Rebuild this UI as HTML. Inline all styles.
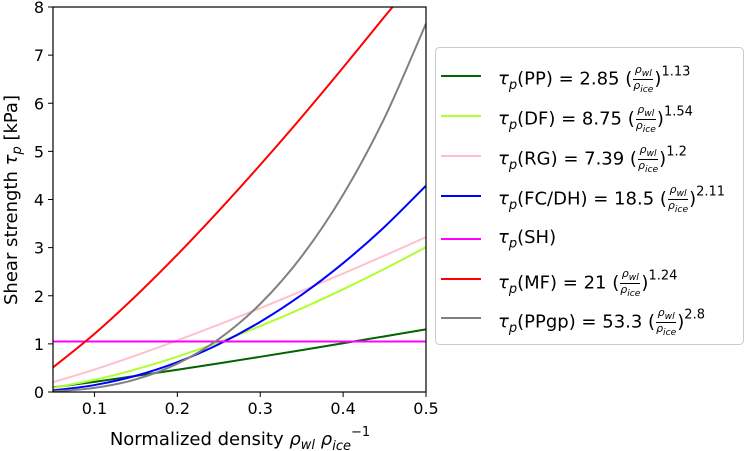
<!DOCTYPE html>
<html><head><meta charset="utf-8"><style>
body{margin:0;background:#fff;width:746px;height:451px;overflow:hidden;font-family:"DejaVu Sans","Liberation Sans",sans-serif;}
svg{position:absolute;left:0;top:0}
.leg{position:absolute;left:498px;font-size:18px;white-space:nowrap;line-height:1;color:#000}
.fr{display:inline-block;vertical-align:middle;text-align:center;font-size:11px;font-style:italic;line-height:1.05;margin:0 1px}
.fr span{display:block}
.fr .n{border-bottom:1px solid #000;padding:0 1px}
sup{font-size:13px;vertical-align:9px}
i{font-style:italic}
</style></head><body>
<svg id="chart" width="746" height="451"></svg>
<div class="leg" style="top:64px"><i>τ</i><sub style="font-size:13px"><i>p</i></sub>(PP) = 2.85 (<span class="fr"><span class="n">ρ<sub>wl</sub></span><span>ρ<sub>ice</sub></span></span>)<sup>1.13</sup></div>
<div class="leg" style="top:104px"><i>τ</i><sub style="font-size:13px"><i>p</i></sub>(DF) = 8.75 (<span class="fr"><span class="n">ρ<sub>wl</sub></span><span>ρ<sub>ice</sub></span></span>)<sup>1.54</sup></div>
<div class="leg" style="top:144px"><i>τ</i><sub style="font-size:13px"><i>p</i></sub>(RG) = 7.39 (<span class="fr"><span class="n">ρ<sub>wl</sub></span><span>ρ<sub>ice</sub></span></span>)<sup>1.2</sup></div>
<div class="leg" style="top:184px"><i>τ</i><sub style="font-size:13px"><i>p</i></sub>(FC/DH) = 18.5 (<span class="fr"><span class="n">ρ<sub>wl</sub></span><span>ρ<sub>ice</sub></span></span>)<sup>2.11</sup></div>
<div class="leg" style="top:229px"><i>τ</i><sub style="font-size:13px"><i>p</i></sub>(SH)</div>
<div class="leg" style="top:268px"><i>τ</i><sub style="font-size:13px"><i>p</i></sub>(MF) = 21 (<span class="fr"><span class="n">ρ<sub>wl</sub></span><span>ρ<sub>ice</sub></span></span>)<sup>1.24</sup></div>
<div class="leg" style="top:307px"><i>τ</i><sub style="font-size:13px"><i>p</i></sub>(PPgp) = 53.3 (<span class="fr"><span class="n">ρ<sub>wl</sub></span><span>ρ<sub>ice</sub></span></span>)<sup>2.8</sup></div>
<script>
const xs=[0.05,0.1,0.15,0.2,0.25,0.3,0.35,0.4,0.45,0.5];
const pp=[0.097,0.211,0.334,0.462,0.595,0.731,0.870,1.012,1.156,1.302];
const df=[0.087,0.252,0.471,0.734,1.034,1.370,1.737,2.134,2.559,3.009];
const rg=[0.203,0.466,0.759,1.071,1.400,1.742,2.097,2.461,2.835,3.217];
const fc=[0.033,0.144,0.338,0.620,0.993,1.458,2.020,2.677,3.432,4.287];
const sh=[1.05,1.05,1.05,1.05,1.05,1.05,1.05,1.05,1.05,1.05];
const mf=[0.511,1.208,1.998,2.854,3.765,4.719,5.712,6.742,7.80,8.83];
const ppgp=[0.012,0.085,0.263,0.588,1.099,1.831,2.819,4.099,5.698,7.655];
const xTicks=[0.1,0.2,0.3,0.4,0.5];
const xTickLabels=["0.1","0.2","0.3","0.4","0.5"];
const yTicks=[0,1,2,3,4,5,6,7,8];
const series=[["pp",pp,"#006400"],["df",df,"#adff2f"],["rg",rg,"#ffc0cb"],["fc-dh",fc,"#0000ff"],["sh",sh,"#ff00ff"],["mf",mf,"#ff0000"],["ppgp",ppgp,"#808080"]];
const L=53,R=426,T=7,B=392;
const sx=v=>L+(v-0.05)/(0.45)*(R-L);
const sy=v=>B-v/8*(B-T);
const NS="http://www.w3.org/2000/svg";
const svg=document.getElementById('chart');
function mk(t,a,p){const e=document.createElementNS(NS,t);for(const k in a)e.setAttribute(k,a[k]);(p||svg).appendChild(e);return e;}
const defs=mk('defs',{});const cp=mk('clipPath',{id:'clip'},defs);mk('rect',{x:L,y:T,width:R-L,height:B-T},cp);
const g=mk('g',{'clip-path':'url(#clip)'});
function path(ys){const p=xs.map((x,i)=>[sx(x),sy(ys[i])]);let d=`M${p[0][0]},${p[0][1]}`;
for(let i=0;i<p.length-1;i++){const p0=p[Math.max(0,i-1)],p1=p[i],p2=p[i+1],p3=p[Math.min(p.length-1,i+2)];
d+=` C${p1[0]+(p2[0]-p0[0])/6},${p1[1]+(p2[1]-p0[1])/6} ${p2[0]-(p3[0]-p1[0])/6},${p2[1]-(p3[1]-p1[1])/6} ${p2[0]},${p2[1]}`;}return d;}
series.forEach(s=>{const e=mk('path',{d:path(s[1]),fill:'none',stroke:s[2],'stroke-width':2},g);

});
const fr=mk('rect',{x:L,y:T,width:R-L,height:B-T,fill:'none',stroke:'#000','stroke-width':1.2});

xTicks.forEach((v,i)=>{mk('line',{x1:sx(v),x2:sx(v),y1:B,y2:B+5,stroke:'#000'});
const t=mk('text',{x:sx(v),y:B+22,'text-anchor':'middle','font-size':16,'font-family':'DejaVu Sans, Liberation Sans, sans-serif'});t.textContent=xTickLabels[i];
});
yTicks.forEach(v=>{mk('line',{x1:L-5,x2:L,y1:sy(v),y2:sy(v),stroke:'#000'});
const t=mk('text',{x:L-9,y:sy(v)+6,'text-anchor':'end','font-size':16,'font-family':'DejaVu Sans, Liberation Sans, sans-serif'});t.textContent=v;
});
const xl=mk('text',{x:240,y:445,'text-anchor':'middle','font-size':18,'font-family':'DejaVu Sans, sans-serif'});
xl.innerHTML='Normalized density <tspan font-style="italic">ρ</tspan><tspan font-size="13" dy="4" font-style="italic">wl</tspan><tspan dy="-4"> </tspan><tspan font-style="italic">ρ</tspan><tspan font-size="13" dy="5" font-style="italic">ice</tspan><tspan font-size="13" dy="-14">−1</tspan>';

const yl=mk('text',{x:0,y:0,'text-anchor':'middle','font-size':18,'font-family':'DejaVu Sans, sans-serif',transform:'translate(17,200) rotate(-90)'});
yl.innerHTML='Shear strength <tspan font-style="italic">τ</tspan><tspan font-size="13" dy="4" font-style="italic">p</tspan><tspan dy="-4"> [kPa]</tspan>';

const lb=mk('rect',{x:435.5,y:47.5,width:308,height:297,rx:4,fill:'#fff',stroke:'#ccc'});

const ly=[76,116,156,196,239,279,318];
series.forEach((s,i)=>{const e=mk('line',{x1:441,x2:481,y1:ly[i],y2:ly[i],stroke:s[2],'stroke-width':2});
});
</script>
</body></html>
